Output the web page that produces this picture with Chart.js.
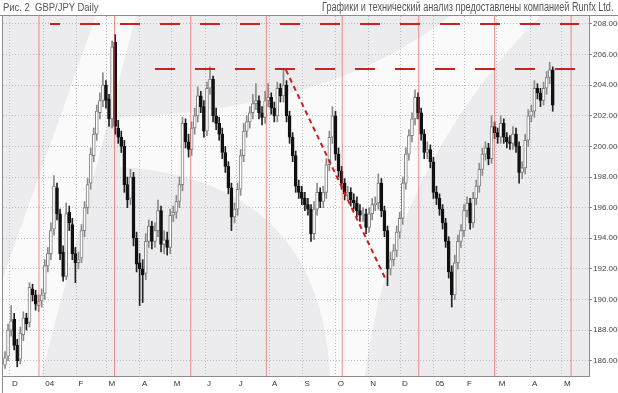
<!DOCTYPE html>
<html>
<head>
<meta charset="utf-8">
<script src="https://cdn.jsdelivr.net/npm/chart.js@4.4.1/dist/chart.umd.min.js"></script>
<style>
  html, body { margin: 0; padding: 0; background: #fff; }
  #wrap { position: relative; width: 618px; height: 393px; overflow: hidden; }
  .cap { position: absolute; top: 0px; font-family: "Liberation Sans", Arial, sans-serif; color: #555; white-space: nowrap; line-height: 15px; }
  #capL { left: 3px; font-size: 11px; transform: scaleX(0.86); transform-origin: left top; }
  #capR { right: 5px; font-size: 12px; transform: scaleX(0.76); transform-origin: right top; }
  canvas { position: absolute; left: 0; top: 0; }
</style>
</head>
<body>
<div id="wrap">
  <canvas id="chart" width="618" height="393"></canvas>
  <div class="cap" id="capL">Рис. 2&nbsp; GBP/JPY Daily</div>
  <div class="cap" id="capR">Графики и технический анализ предоставлены компанией Runfx Ltd.</div>
</div>
<script>
// GBP/JPY, Dec 2003 - Apr 2005, one candle per ~2 trading days
const opens = [
  185.7, 186.3, 188.0, 188.7, 187.0, 186.1, 187.7, 188.8, 188.5, 190.7,
  190.3, 189.6, 189.9, 190.4, 192.2, 193.0, 194.6, 197.3, 195.6, 193.1,
  191.5, 195.7, 194.9, 193.0, 192.4, 192.7, 194.5, 196.0, 197.6, 199.4,
  200.8, 202.2, 203.0, 204.0, 203.1, 201.8, 206.8, 201.2, 200.6, 200.0,
  197.5, 196.6, 198.0, 194.0, 192.4, 192.0, 191.7, 193.8, 194.8, 193.8,
  194.5, 195.8, 193.6, 193.9, 193.4, 195.5, 195.7, 196.4, 197.5, 201.5,
  200.3, 199.8, 201.2, 202.0, 203.3, 202.6, 201.0, 203.8, 204.4, 202.0,
  201.5, 200.8, 199.6, 198.7, 197.3, 195.4, 195.9, 197.2, 199.4, 201.0,
  201.6, 202.2, 202.8, 203.0, 202.2, 201.9, 203.0, 203.2, 202.5, 202.0,
  203.8, 203.3, 204.0, 202.0, 200.6, 199.4, 197.4, 197.0, 196.6, 196.2,
  195.9, 194.3, 195.9, 197.0, 196.4, 197.0, 198.8, 200.6, 202.0, 199.5,
  198.4, 197.6, 196.9, 197.0, 196.5, 196.3, 195.8, 195.5, 195.6, 194.7,
  195.6, 196.2, 196.3, 197.6, 195.8, 194.5, 192.0, 192.6, 193.2, 194.4,
  195.3, 197.6, 199.5, 200.7, 201.8, 203.2, 202.2, 200.8, 199.6, 199.8,
  199.0, 197.0, 196.6, 195.9, 195.0, 193.8, 191.8, 190.3, 192.4, 193.8,
  194.5, 195.8, 196.3, 195.0, 196.6, 197.4, 198.5, 199.5, 199.9, 199.2,
  201.3, 200.9, 200.6, 201.5, 200.6, 200.3, 200.2, 200.8, 200.0, 198.3,
  198.6, 200.4, 202.0, 202.3, 203.8, 203.5, 203.0, 203.8, 204.5, 205.0
];
const highs = [
  186.6, 188.4, 189.6, 189.1, 187.4, 188.2, 189.2, 189.1, 191.1, 191.0,
  190.6, 190.3, 190.7, 192.6, 193.4, 195.0, 198.1, 197.6, 195.9, 193.5,
  196.3, 196.1, 195.3, 193.4, 193.1, 194.9, 196.4, 197.9, 199.9, 201.2,
  202.7, 203.5, 204.8, 204.3, 203.4, 206.9, 207.3, 201.7, 201.0, 200.4,
  198.0, 198.5, 198.3, 194.4, 193.0, 192.6, 194.3, 195.2, 195.1, 195.0,
  196.5, 196.1, 194.5, 194.4, 195.9, 196.1, 196.8, 198.0, 201.9, 201.8,
  200.8, 201.6, 202.5, 203.9, 203.6, 203.0, 204.2, 205.2, 204.6, 202.5,
  201.9, 201.2, 200.0, 199.0, 197.6, 196.3, 197.6, 199.8, 201.5, 202.0,
  202.6, 203.4, 204.1, 203.3, 202.6, 203.6, 204.1, 203.5, 202.9, 204.2,
  204.1, 205.0, 204.3, 202.3, 200.9, 199.7, 197.8, 197.4, 197.0, 196.6,
  196.2, 196.4, 197.6, 197.3, 197.4, 199.2, 201.0, 202.6, 202.3, 199.9,
  198.7, 197.9, 197.4, 197.3, 196.9, 196.7, 196.2, 196.0, 195.9, 196.0,
  196.6, 196.7, 198.2, 197.9, 196.1, 194.8, 193.1, 193.6, 194.8, 195.7,
  198.0, 199.9, 201.1, 202.2, 203.7, 203.5, 202.5, 201.1, 200.3, 200.1,
  199.3, 197.4, 196.9, 196.2, 195.3, 194.1, 192.2, 192.9, 194.2, 194.9,
  196.2, 196.7, 196.6, 197.0, 197.8, 198.9, 199.9, 200.3, 200.2, 202.0,
  201.6, 201.2, 202.0, 201.8, 200.9, 200.7, 201.3, 201.2, 200.3, 199.0,
  200.8, 202.4, 202.7, 204.3, 204.1, 203.8, 204.2, 204.9, 205.5, 205.2
];
const lows = [
  185.5, 186.0, 187.6, 186.7, 185.6, 185.8, 187.3, 188.0, 188.2, 189.9,
  189.3, 189.2, 189.5, 190.0, 191.8, 192.6, 194.2, 195.2, 192.6, 191.2,
  191.3, 194.5, 192.6, 191.1, 192.0, 192.4, 194.1, 195.6, 197.2, 199.0,
  200.4, 201.8, 202.6, 202.5, 201.3, 201.2, 200.8, 200.2, 199.6, 197.0,
  196.0, 196.2, 193.5, 191.8, 189.6, 189.8, 191.3, 193.4, 193.3, 193.4,
  194.1, 193.1, 193.0, 192.9, 193.0, 195.1, 195.3, 196.0, 197.1, 199.9,
  199.3, 199.4, 200.8, 201.6, 202.2, 200.6, 200.7, 203.4, 201.6, 201.1,
  200.4, 199.2, 198.3, 196.9, 194.5, 195.0, 195.5, 196.8, 199.0, 200.6,
  201.2, 201.8, 202.4, 201.8, 201.4, 201.5, 202.6, 202.1, 201.6, 201.6,
  202.9, 202.9, 201.6, 200.2, 199.0, 197.0, 196.6, 196.2, 195.8, 195.5,
  193.8, 193.9, 195.5, 196.0, 196.0, 196.6, 198.4, 200.2, 199.1, 198.0,
  197.2, 196.5, 196.5, 196.1, 195.9, 195.4, 195.1, 195.1, 194.3, 194.4,
  195.2, 195.8, 195.9, 195.4, 194.1, 190.9, 191.6, 192.2, 192.8, 194.0,
  194.9, 197.2, 199.1, 200.3, 201.4, 201.8, 200.4, 199.2, 199.2, 198.6,
  196.6, 196.2, 195.5, 194.6, 193.4, 191.4, 189.5, 190.0, 192.0, 193.4,
  194.1, 195.4, 194.6, 194.7, 196.2, 197.0, 198.1, 199.1, 198.8, 198.9,
  200.5, 200.2, 200.2, 200.2, 199.9, 199.8, 199.8, 199.6, 197.6, 197.9,
  198.2, 200.0, 201.6, 201.9, 203.1, 202.6, 202.7, 203.4, 204.1, 202.3
];
const closes = [
  186.2, 188.0, 188.6, 187.0, 186.0, 187.8, 188.8, 188.4, 190.8, 190.3,
  189.7, 189.9, 190.3, 192.2, 193.0, 194.5, 197.4, 195.6, 193.0, 191.5,
  195.6, 195.0, 193.0, 192.4, 192.6, 194.5, 196.0, 197.5, 199.5, 200.8,
  202.3, 203.0, 204.0, 203.0, 201.8, 206.5, 201.3, 200.6, 200.0, 197.5,
  196.5, 198.0, 194.0, 192.3, 192.0, 191.6, 193.8, 194.8, 193.8, 194.5,
  195.8, 193.6, 193.9, 193.4, 195.5, 195.7, 196.4, 197.5, 201.5, 200.3,
  199.8, 201.2, 202.0, 203.3, 202.6, 201.0, 203.8, 204.4, 202.0, 201.5,
  200.8, 199.6, 198.7, 197.3, 195.4, 195.9, 197.2, 199.4, 201.0, 201.6,
  202.2, 202.8, 203.0, 202.2, 201.9, 203.0, 203.2, 202.5, 202.0, 203.8,
  203.3, 204.0, 202.0, 200.6, 199.4, 197.4, 197.0, 196.6, 196.2, 195.9,
  194.3, 195.9, 197.0, 196.4, 197.0, 198.8, 200.6, 202.0, 199.5, 198.4,
  197.6, 196.9, 197.0, 196.5, 196.3, 195.8, 195.5, 195.6, 194.7, 195.6,
  196.2, 196.3, 197.6, 195.8, 194.5, 192.0, 192.6, 193.2, 194.4, 195.3,
  197.6, 199.5, 200.7, 201.8, 203.2, 202.2, 200.8, 199.6, 199.8, 199.0,
  197.0, 196.6, 195.9, 195.0, 193.8, 191.8, 190.3, 192.4, 193.8, 194.5,
  195.8, 196.3, 195.0, 196.6, 197.4, 198.5, 199.5, 199.9, 199.2, 201.3,
  200.9, 200.6, 201.5, 200.6, 200.3, 200.2, 200.8, 200.0, 198.3, 198.6,
  200.4, 202.0, 202.3, 203.8, 203.5, 203.0, 203.8, 204.5, 205.0, 202.7
];

// month starts (candle index) and their labels
const monthTicks = [1.6, 12.5, 23.4, 33.2, 44.1, 54.5, 65.4, 75.7, 86.6, 97.2, 108.1, 118.7, 129.1, 140.0, 150.3, 160.7, 171.6, 182.0];
const monthLabels = ['D', '04', 'F', 'M', 'A', 'M', 'J', 'J', 'A', 'S', 'O', 'N', 'D', '05', 'F', 'M', 'A', 'M'];
const priceTicks = [186, 188, 190, 192, 194, 196, 198, 200, 202, 204, 206, 208];

// analysis marks
const cycleLines = [11.1, 35.8, 60.7, 85.4, 110.2, 135.2, 160.0, 185.0];
const resistTop = [{ x: 14.7, y: 208.0 }, { x: 187.6, y: 208.0 }];
const resistMid = [{ x: 49.0, y: 205.05 }, { x: 186.3, y: 205.05 }];
const trendDown = [{ x: 91.8, y: 205.0 }, { x: 124.7, y: 191.2 }];

const Y_MIN = 185.0, Y_MAX = 208.52;

const isUp = i => closes[i] >= opens[i];

const wickData = closes.map((c, i) => ({ x: i, y: [lows[i], highs[i]] }));
const bodyData = closes.map((c, i) => ({ x: i, y: [opens[i], c] }));

const cycleData = [];
cycleLines.forEach(c => {
  cycleData.push({ x: c, y: Y_MIN }, { x: c, y: Y_MAX }, { x: c, y: null });
});

// background watermark + frame
const backdrop = {
  id: 'backdrop',
  beforeDraw(chart) {
    const { ctx, chartArea: a } = chart;
    ctx.save();
    ctx.fillStyle = '#fff';
    ctx.fillRect(0, 0, chart.width, chart.height);
    ctx.fillStyle = '#ececee';
    ctx.fillRect(a.left, a.top, a.right - a.left, a.bottom - a.top);
    ctx.beginPath();
    ctx.rect(a.left, a.top, a.right - a.left, a.bottom - a.top);
    ctx.clip();
    ctx.fillStyle = '#fafafb';
    // diagonal stroke of the logo
    ctx.beginPath();
    ctx.moveTo(-32, 376); ctx.lineTo(41, 376); ctx.lineTo(136, 16); ctx.lineTo(96, 16);
    ctx.closePath();
    ctx.fill();
    // curved bowl of the logo
    ctx.beginPath();
    ctx.moveTo(120, 117);
    ctx.quadraticCurveTo(330, 110, 450, 16);
    ctx.lineTo(540, 16);
    ctx.quadraticCurveTo(390, 170, 365, 376);
    ctx.lineTo(330, 376);
    ctx.quadraticCurveTo(320, 180, 120, 167);
    ctx.closePath();
    ctx.fill();
    ctx.restore();
  },
  afterDraw(chart) {
    const { ctx, chartArea: a } = chart;
    ctx.save();
    ctx.strokeStyle = '#8c8c8c';
    ctx.lineWidth = 1;
    ctx.beginPath();
    ctx.moveTo(0, a.top - 0.5); ctx.lineTo(chart.width, a.top - 0.5);
    ctx.moveTo(a.left - 0.5, a.top); ctx.lineTo(a.left - 0.5, chart.height);
    ctx.stroke();
    ctx.restore();
  }
};

new Chart(document.getElementById('chart'), {
  type: 'bar',
  data: {
    datasets: [
      {
        type: 'line', data: resistTop, borderColor: '#cc1f1f', borderWidth: 2,
        borderDash: [20, 20], borderDashOffset: 10, pointRadius: 0, order: 0
      },
      {
        type: 'line', data: resistMid, borderColor: '#cc1f1f', borderWidth: 2,
        borderDash: [20, 20], pointRadius: 0, order: 0
      },
      {
        type: 'line', data: trendDown, borderColor: '#cc1f1f', borderWidth: 2,
        borderDash: [5, 4], pointRadius: 0, order: 0
      },
      {
        type: 'line', data: cycleData, borderColor: 'rgba(238,70,70,0.6)', borderWidth: 1,
        pointRadius: 0, spanGaps: false, order: 1
      },
      {
        data: bodyData, grouped: false, barThickness: 3, minBarLength: 1,
        backgroundColor: ctx => isUp(ctx.dataIndex) ? '#ffffff' : '#111111',
        borderColor: ctx => isUp(ctx.dataIndex) ? '#808080' : '#111111',
        borderWidth: 1, borderSkipped: false, order: 2
      },
      {
        data: wickData, grouped: false, barThickness: 1,
        backgroundColor: ctx => isUp(ctx.dataIndex) ? '#8a8a8a' : '#222222',
        order: 3
      }
    ]
  },
  options: {
    responsive: false,
    animation: false,
    layout: { padding: { left: 3, top: 16, right: 0, bottom: 0 } },
    plugins: { legend: { display: false }, tooltip: { enabled: false } },
    scales: {
      x: {
        type: 'linear', min: -0.65, max: 190.85, offset: false,
        afterBuildTicks: axis => { axis.ticks = monthTicks.map(v => ({ value: v })); },
        afterFit: axis => { axis.height = 17; },
        ticks: {
          autoSkip: false, maxRotation: 0, align: 'start', labelOffset: 2, padding: 3,
          font: { family: 'Liberation Sans', size: 8 }, color: '#333',
          callback: (v, i) => monthLabels[i]
        },
        grid: { color: '#bdbdbd', drawTicks: false, offset: false },
        border: { display: true, color: '#8c8c8c', dash: [1, 2] }
      },
      y: {
        position: 'right', min: Y_MIN, max: Y_MAX,
        afterBuildTicks: axis => { axis.ticks = priceTicks.map(v => ({ value: v })); },
        afterFit: axis => { axis.width = 29; },
        ticks: {
          padding: 1, font: { family: 'Liberation Sans', size: 8 }, color: '#444',
          callback: v => v.toFixed(4)
        },
        grid: { color: '#bdbdbd', tickLength: 3, tickColor: '#8c8c8c', tickBorderDash: [] },
        border: { display: true, color: '#8c8c8c', dash: [1, 2] }
      }
    }
  },
  plugins: [backdrop]
});
</script>
</body>
</html>
